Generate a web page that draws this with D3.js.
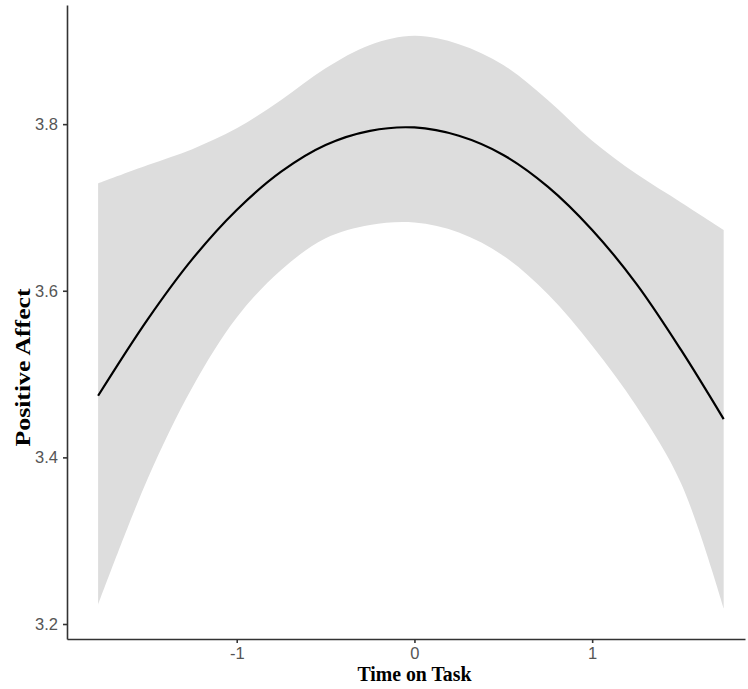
<!DOCTYPE html>
<html lang="en">
<head>
<meta charset="UTF-8">
<title>Positive Affect by Time on Task</title>
<script src="https://d3js.org/d3.v7.min.js"></script>
<style>
  *{padding:0; margin:0; box-sizing:border-box;}
  body{background:#fff;}
  .tick text{font-family:"Liberation Sans", Arial, sans-serif; font-size:16.5px; fill:#555;}
  .tick line, .domain{stroke:#333; stroke-width:1.6;}
  .title{font-family:"Liberation Serif", "Times New Roman", serif; font-weight:bold; fill:#000;}
</style>
</head>
<body>
<script>
// time on task (centred) where the curve was read
const timeVals = [-1.78, -1.5, -1.25, -1, -0.75, -0.5, -0.25, 0, 0.25, 0.5, 0.75, 1, 1.25, 1.5, 1.74];
// fitted positive affect
const fitVals = [3.474, 3.566, 3.638, 3.697, 3.743, 3.775, 3.792, 3.796, 3.786, 3.763, 3.725, 3.673, 3.608, 3.529, 3.446];
// confidence band
const upperVals = [3.729, 3.751, 3.770, 3.795, 3.829, 3.867, 3.895, 3.906, 3.896, 3.871, 3.829, 3.780, 3.740, 3.706, 3.673];
const lowerVals = [3.223, 3.375, 3.484, 3.568, 3.625, 3.663, 3.679, 3.682, 3.670, 3.642, 3.596, 3.534, 3.461, 3.369, 3.219];
const xTicks = [-1, 0, 1];
const yTicks = [3.2, 3.4, 3.6, 3.8];

const W = 748, H = 689;
const svg = d3.select('body').append('svg').attr('width', W).attr('height', H);

const x = d3.scaleLinear().domain([-1.955, 1.86]).range([67, 745]);
const y = d3.scaleLinear().domain([3.182, 3.943]).range([639, 5]);

const rows = timeVals.map((t, i) => ({t: t, fit: fitVals[i], lo: lowerVals[i], hi: upperVals[i]}));

// ribbon
svg.append('path')
    .datum(rows)
    .attr('fill', '#dddddd')
    .attr('d', d3.area()
        .curve(d3.curveCatmullRom)
        .x(d => x(d.t))
        .y0(d => y(d.lo))
        .y1(d => y(d.hi)));

// fitted line
svg.append('path')
    .datum(rows)
    .attr('fill', 'none')
    .attr('stroke', '#000')
    .attr('stroke-width', 2.2)
    .attr('d', d3.line()
        .curve(d3.curveCatmullRom)
        .x(d => x(d.t))
        .y(d => y(d.fit)));

// axes
svg.append('g')
    .attr('transform', 'translate(0,639)')
    .call(d3.axisBottom(x).tickValues(xTicks).tickFormat(d => String(d))
        .tickSize(4).tickPadding(4).tickSizeOuter(0));

svg.append('g')
    .attr('transform', 'translate(67,0)')
    .call(d3.axisLeft(y).tickValues(yTicks).tickFormat(d3.format('.1f'))
        .tickSize(4).tickPadding(5).tickSizeOuter(0));

// axis titles
svg.append('text').attr('class', 'title')
    .attr('x', x(0)).attr('y', 681)
    .attr('text-anchor', 'middle')
    .style('font-size', '20px')
    .attr('textLength', 114).attr('lengthAdjust', 'spacingAndGlyphs')
    .text('Time on Task');

svg.append('text').attr('class', 'title')
    .attr('transform', 'translate(30,' + y(3.508) + ') rotate(-90)')
    .attr('text-anchor', 'middle')
    .style('font-size', '22px')
    .attr('textLength', 158).attr('lengthAdjust', 'spacingAndGlyphs')
    .text('Positive Affect');
</script>
</body>
</html>
